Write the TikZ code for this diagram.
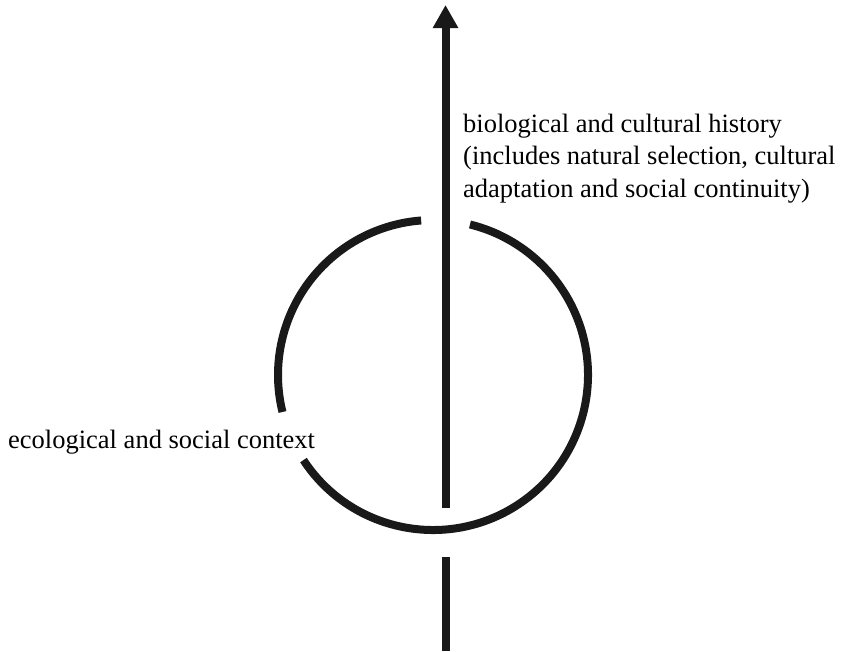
\documentclass[tikz,border=0pt]{standalone}
\usepackage{fontspec}
\setmainfont{Liberation Serif}
\usetikzlibrary{arrows.meta,calc}
\begin{document}
\begin{tikzpicture}[x=1pt,y=-1pt,
  stroke/.style={line width=8pt,draw=black!90},
  lbl/.style={font=\fontsize{26.5}{32.5}\selectfont,inner sep=0pt,align=left}]
\useasboundingbox (0,0) rectangle (845,651);
\coordinate (c) at (433,375);
\coordinate (top) at (445.5,5);
\coordinate (gapU) at (445.5,508);
\coordinate (gapL) at (445.5,557);
\coordinate (bot) at (445.5,651);
\draw[stroke,-{Triangle[width=24pt,length=23pt]}] (gapU) -- (top);
\draw[stroke] (bot) -- (gapL);
\draw[stroke] ($(c)+(-94.4:155)$) arc[start angle=-94.4,end angle=-193.8,radius=155];
\draw[stroke] ($(c)+(-213.3:155)$) arc[start angle=-213.3,end angle=-436.2,radius=155];
\node[lbl,anchor=base west] (hist) at (463,197) {biological and cultural history\\(includes natural selection, cultural\\adaptation and social continuity)};
\node[lbl,anchor=base west] (ctx) at (8,448) {ecological and social context};
\end{tikzpicture}
\end{document}
